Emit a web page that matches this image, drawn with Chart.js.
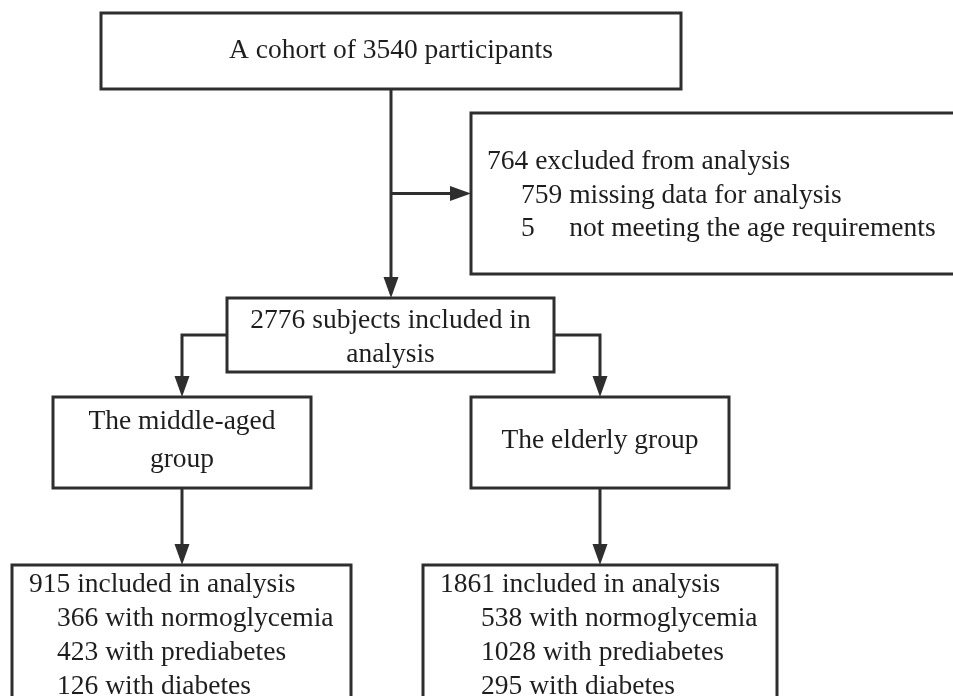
<!DOCTYPE html>
<html>
<head>
<meta charset="utf-8">
<script src="https://cdn.jsdelivr.net/npm/chart.js@4.4.0/dist/chart.umd.min.js"></script>
<style>
  html, body { margin: 0; padding: 0; background: #fff; }
  #wrap { width: 953px; height: 696px; }
</style>
</head>
<body>
<div id="wrap"><canvas id="flowChart"></canvas></div>
<script>
// counts
const cohortTotal = 3540;
const excludedTotal = 764;
const excludedReasons = ['missing data for analysis', 'not meeting the age requirements'];
const excludedCounts = [759, 5];
const includedTotal = 2776;
const groupNames = [['The middle-aged', 'group'], ['The elderly group']];
const groupTotals = [915, 1861];
const glycemiaLabels = ['normoglycemia', 'prediabetes', 'diabetes'];
const middleAgedCounts = [366, 423, 126];
const elderlyCounts = [538, 1028, 295];

// box geometry in scale units (x: 0..953, y: 0..696 top-down)
const layout = {
    top: { x0: 101, x1: 681, y0: 13, y1: 89 },
    excl: { x0: 471, x1: 975, y0: 113, y1: 274 },
    incl: { x0: 227, x1: 554, y0: 298, y1: 372 },
    groups: [
        { x0: 53, x1: 311, y0: 397, y1: 488 },
        { x0: 471, x1: 729, y0: 397, y1: 488 }
    ],
    results: [
        { x0: 12, x1: 351, y0: 565, y1: 720 },
        { x0: 423, x1: 777, y0: 565, y1: 720 }
    ]
};

const INK = '#2e2e2e';
const FONT = '27.5px "Liberation Serif"';

const flowPlugin = {
    id: 'flow',
    afterDraw(chart) {
        const ctx = chart.ctx;
        const sx = chart.scales.x, sy = chart.scales.y;
        const px = v => sx.getPixelForValue(v);
        const py = v => sy.getPixelForValue(v);

        ctx.save();
        ctx.strokeStyle = INK;
        ctx.fillStyle = INK;
        ctx.lineWidth = 3;
        ctx.lineCap = 'butt';
        ctx.lineJoin = 'miter';

        const box = b => {
            ctx.strokeRect(px(b.x0), py(b.y0), px(b.x1) - px(b.x0), py(b.y1) - py(b.y0));
        };
        const path = pts => {
            ctx.beginPath();
            pts.forEach(([x, y], i) => i ? ctx.lineTo(px(x), py(y)) : ctx.moveTo(px(x), py(y)));
            ctx.stroke();
        };
        const head = (x, y, dir) => {
            const L = 21, W = 7.5;
            const tx = px(x), ty = py(y);
            ctx.beginPath();
            if (dir === 'down') {
                ctx.moveTo(tx, ty);
                ctx.lineTo(tx - W, ty - L);
                ctx.lineTo(tx + W, ty - L);
            } else {
                ctx.moveTo(tx, ty);
                ctx.lineTo(tx - L, ty - W);
                ctx.lineTo(tx - L, ty + W);
            }
            ctx.closePath();
            ctx.fill();
        };

        const { top, excl, incl, groups, results } = layout;
        const midX = (top.x0 + top.x1) / 2;
        const branchY = (excl.y0 + excl.y1) / 2;
        const sideY = (incl.y0 + incl.y1) / 2;

        // connectors
        path([[midX, top.y1], [midX, incl.y0 - 18]]);
        head(midX, incl.y0, 'down');
        path([[midX, branchY], [excl.x0 - 18, branchY]]);
        head(excl.x0, branchY, 'right');

        const gc = groups.map(g => (g.x0 + g.x1) / 2);
        path([[incl.x0, sideY], [gc[0], sideY], [gc[0], groups[0].y0 - 18]]);
        head(gc[0], groups[0].y0, 'down');
        path([[incl.x1, sideY], [gc[1], sideY], [gc[1], groups[1].y0 - 18]]);
        head(gc[1], groups[1].y0, 'down');

        groups.forEach((g, i) => {
            path([[gc[i], g.y1], [gc[i], results[i].y0 - 18]]);
            head(gc[i], results[i].y0, 'down');
        });

        // boxes
        [top, excl, incl, ...groups, ...results].forEach(box);

        // text
        ctx.fillStyle = '#1e1e1e';
        ctx.font = FONT;
        ctx.textBaseline = 'middle';

        ctx.textAlign = 'center';
        ctx.fillText(`A cohort of ${cohortTotal} participants`, px(midX), py(51));
        const ic = (incl.x0 + incl.x1) / 2;
        ctx.fillText(`${includedTotal} subjects included in`, px(ic), py(321));
        ctx.fillText('analysis', px(ic), py(355));

        groupNames.forEach((lines, i) => {
            const cy = (groups[i].y0 + groups[i].y1) / 2 - 2;
            const lh = 38;
            lines.forEach((t, k) => {
                ctx.fillText(t, px(gc[i]), py(cy + (k - (lines.length - 1) / 2) * lh));
            });
        });

        ctx.textAlign = 'left';
        const ex = excl.x0 + 16;
        const indent = ex + 34;
        ctx.fillText(`${excludedTotal} excluded from analysis`, px(ex), py(162));
        const reasonCol = indent + ctx.measureText(`${excludedCounts[0]} `).width;
        excludedCounts.forEach((c, i) => {
            const y = 196 + i * 33;
            ctx.fillText(String(c), px(indent), py(y));
            ctx.fillText(excludedReasons[i], px(reasonCol), py(y));
        });

        const groupCounts = [middleAgedCounts, elderlyCounts];
        results.forEach((r, i) => {
            const tx = r.x0 + 17;
            ctx.fillText(`${groupTotals[i]} included in analysis`, px(tx), py(585));
            groupCounts[i].forEach((c, k) => {
                ctx.fillText(`${c} with ${glycemiaLabels[k]}`, px(tx + (i ? 41 : 28)), py(619 + k * 34));
            });
        });

        ctx.restore();
    }
};

function drawFlow() {
    new Chart(document.getElementById('flowChart'), {
        type: 'scatter',
        data: { datasets: [{ data: [], pointRadius: 0 }] },
        options: {
            responsive: true,
            maintainAspectRatio: false,
            animation: false,
            layout: { padding: 0 },
            plugins: { legend: { display: false }, tooltip: { enabled: false } },
            scales: {
                x: { type: 'linear', min: 0, max: 953, display: false },
                y: { type: 'linear', min: 0, max: 696, reverse: true, display: false }
            }
        },
        plugins: [flowPlugin]
    });
}

document.fonts.load(FONT).then(drawFlow, drawFlow);
</script>
</body>
</html>
